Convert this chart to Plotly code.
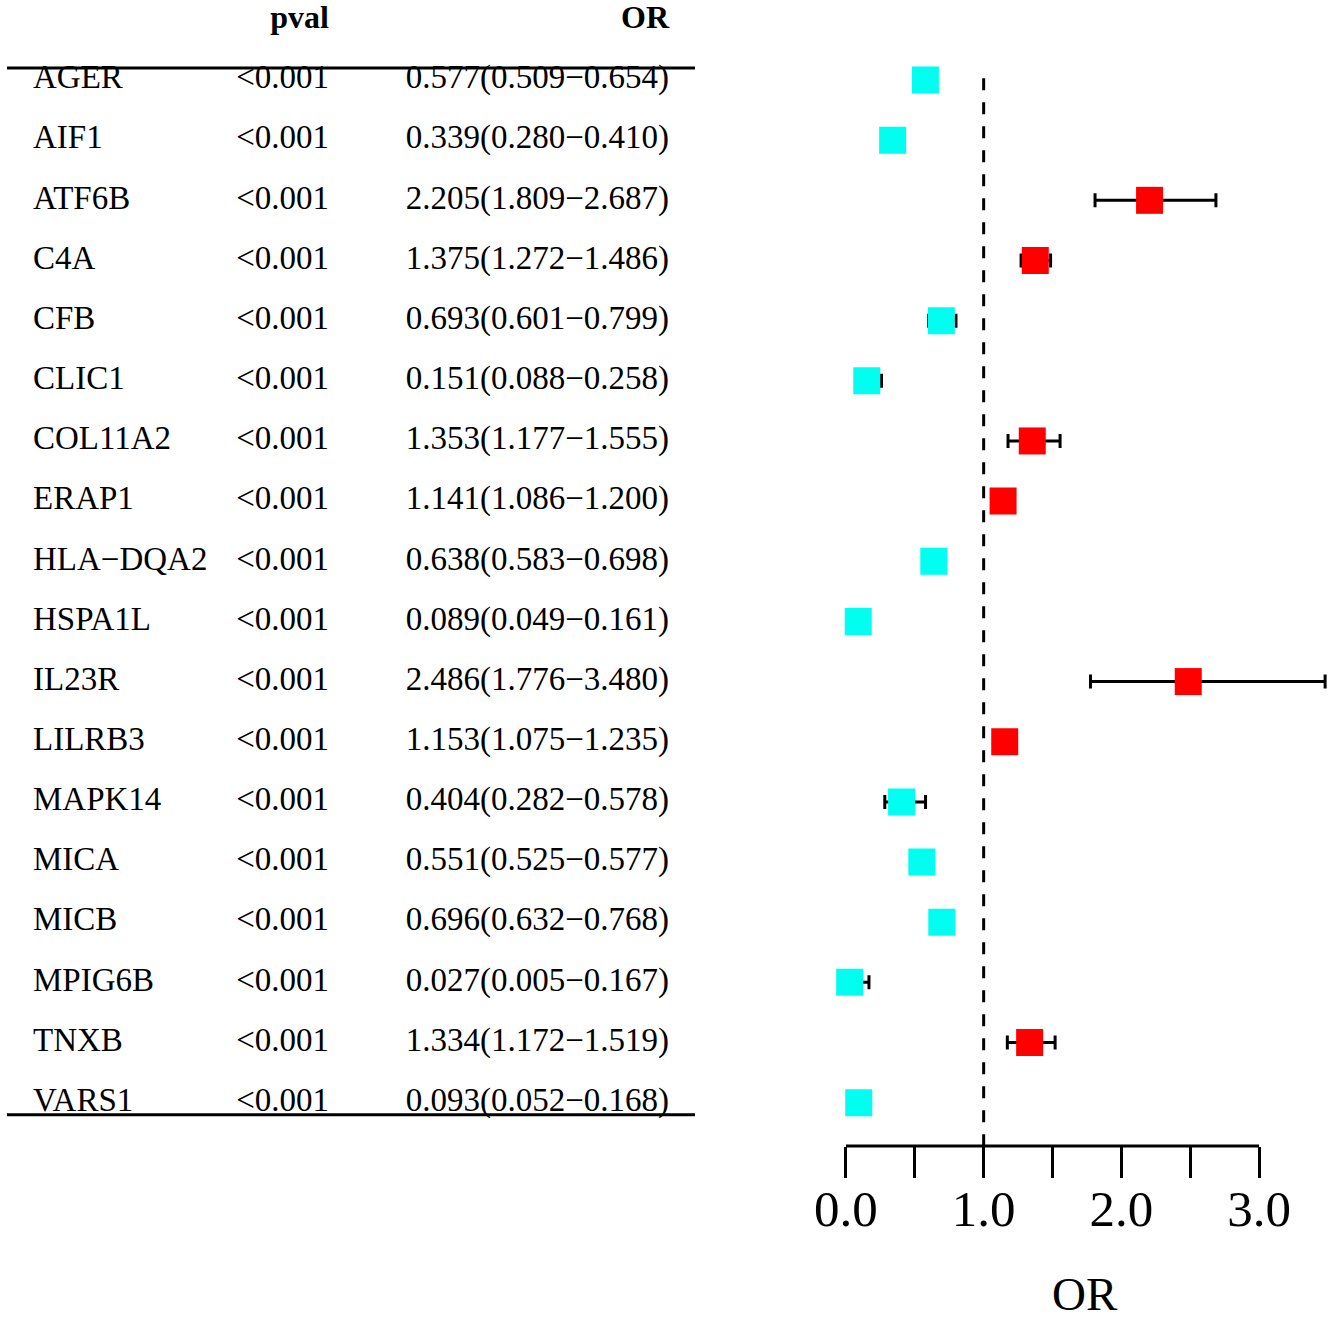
import plotly.graph_objects as go

genes = ["AGER", "AIF1", "ATF6B", "C4A", "CFB", "CLIC1", "COL11A2", "ERAP1",
         "HLA−DQA2", "HSPA1L", "IL23R", "LILRB3", "MAPK14", "MICA", "MICB",
         "MPIG6B", "TNXB", "VARS1"]
pvals = ["<0.001"] * 18
odds = [0.577, 0.339, 2.205, 1.375, 0.693, 0.151, 1.353, 1.141, 0.638,
        0.089, 2.486, 1.153, 0.404, 0.551, 0.696, 0.027, 1.334, 0.093]
lower = [0.509, 0.280, 1.809, 1.272, 0.601, 0.088, 1.177, 1.086, 0.583,
         0.049, 1.776, 1.075, 0.282, 0.525, 0.632, 0.005, 1.172, 0.052]
upper = [0.654, 0.410, 2.687, 1.486, 0.799, 0.258, 1.555, 1.200, 0.698,
         0.161, 3.480, 1.235, 0.578, 0.577, 0.768, 0.167, 1.519, 0.168]
tickvals = [0, 0.5, 1, 1.5, 2, 2.5, 3]

font = "Liberation Serif"
rows = list(range(len(genes)))
or_text = [f"{o:.3f}({l:.3f}−{h:.3f})" for o, l, h in zip(odds, lower, upper)]
colors = ["#FF0000" if o > 1 else "#00FFF0" for o in odds]
yrange = [17.72, -1.33]

fig = go.Figure()

# table on the left
fig.add_trace(go.Scatter(x=[33] * len(genes), y=rows, text=genes, mode="text",
                         textposition="middle right", xaxis="x2",
                         textfont=dict(family=font, size=33, color="black")))
fig.add_trace(go.Scatter(x=[329] * len(genes), y=rows, text=pvals, mode="text",
                         textposition="middle left", xaxis="x2",
                         textfont=dict(family=font, size=33, color="black")))
fig.add_trace(go.Scatter(x=[669] * len(genes), y=rows, text=or_text, mode="text",
                         textposition="middle left", xaxis="x2",
                         textfont=dict(family=font, size=33, color="black")))
fig.add_trace(go.Scatter(x=[329, 669], y=[-1, -1], text=["<b>pval</b>", "<b>OR</b>"],
                         mode="text", textposition="middle left", xaxis="x2",
                         textfont=dict(family=font, size=32, color="black")))

# forest plot
fig.add_trace(go.Scatter(
    x=odds, y=rows, mode="markers",
    marker=dict(symbol="square", size=27, color=colors, line_width=0),
    error_x=dict(type="data", symmetric=False,
                 array=[h - o for h, o in zip(upper, odds)],
                 arrayminus=[o - l for o, l in zip(odds, lower)],
                 color="black", thickness=3, width=7),
))

fig.add_shape(type="line", x0=1, x1=1, y0=-0.03, y1=yrange[0], xref="x", yref="y",
              line=dict(color="black", width=3, dash="12px,12px"))
fig.add_shape(type="line", x0=tickvals[0], x1=tickvals[-1], y0=0, y1=0,
              xref="x", yref="paper", line=dict(color="black", width=3))
for yy in [-0.2, 17.2]:
    fig.add_shape(type="line", x0=7, x1=695, y0=yy, y1=yy, xref="x2", yref="y",
                  line=dict(color="black", width=3))

# x axis title
fig.add_annotation(text="OR", xref="paper", yref="paper", x=0.8146, y=-0.129,
                   xanchor="center", yanchor="middle", showarrow=False,
                   font=dict(family=font, size=47, color="black"))

fig.update_layout(
    width=1332, height=1322,
    margin=dict(l=0, r=0, t=0, b=176),
    plot_bgcolor="white", paper_bgcolor="white",
    showlegend=False,
    xaxis=dict(domain=[0.6041, 1.0], range=[-0.3, 3.53], automargin=False,
               showgrid=False, zeroline=False, showline=False,
               tickvals=tickvals,
               ticktext=[f"{t:.1f}" if t == int(t) else "" for t in tickvals],
               ticks="outside", ticklen=31, tickwidth=3, tickcolor="black",
               ticklabelstandoff=-13,
               tickfont=dict(family=font, size=51, color="black")),
    xaxis2=dict(domain=[0, 0.6], range=[0, 799.2], visible=False),
    yaxis=dict(range=yrange, visible=False),
)

fig.write_html("out.html", config={"displayModeBar": False},
               post_script="document.body.style.margin='0px';")
